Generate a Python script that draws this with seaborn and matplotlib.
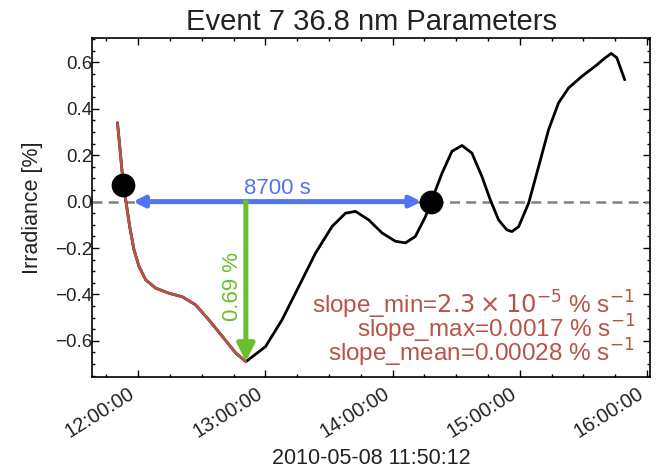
import matplotlib
matplotlib.use("Agg")
import matplotlib.pyplot as plt
import matplotlib.dates as mdates
from matplotlib.ticker import MultipleLocator
import numpy as np
import pandas as pd
import seaborn as sns

DAY = "2010-05-08 "
times = ["11:50:12", "11:51:42", "11:52:56", "11:54:04", "11:55:57", "11:57:58",
         "12:00:20", "12:03:29", "12:08:12", "12:14:28", "12:20:44", "12:27:03",
         "12:33:19", "12:39:35", "12:45:55", "12:50:46",
         "13:00:03", "13:07:52", "13:15:44", "13:23:37", "13:31:26", "13:37:45",
         "13:42:28", "13:48:44", "13:55:00", "14:01:19", "14:06:02", "14:10:44",
         "14:15:28", "14:18:11", "14:23:17", "14:28:00", "14:32:43", "14:37:25",
         "14:42:08", "14:46:06", "14:50:00", "14:53:55", "14:56:17", "14:59:26",
         "15:04:09", "15:08:52", "15:13:34", "15:18:17", "15:23:00", "15:29:16",
         "15:35:35", "15:40:18", "15:43:08", "15:45:46", "15:49:30"]
irradiance = [0.34, 0.196, 0.073, 0.008, -0.107, -0.207,
              -0.279, -0.337, -0.373, -0.395, -0.41, -0.445,
              -0.51, -0.58, -0.652, -0.69,
              -0.625, -0.509, -0.366, -0.222, -0.107, -0.05,
              -0.042, -0.079, -0.135, -0.171, -0.178, -0.150,
              -0.065, 0.0, 0.122, 0.217, 0.242, 0.209,
              0.108, 0.007, -0.079, -0.122, -0.129, -0.108,
              -0.007, 0.151, 0.31, 0.426, 0.49, 0.54,
              0.584, 0.62, 0.639, 0.62, 0.525]
n_dimming = 16  # points from start to the minimum (red segment)

dot_times = ["11:52:56", "14:18:11"]
dot_values = [0.073, 0.0]
min_time = "12:50:46"
min_value = -0.69
duration_label = "8700 s"
depth_label = "0.69 %"
slope_lines = [r"slope_min=$2.3 \times 10^{-5}$ % s$^{-1}$",
               r"slope_max=0.0017 % s$^{-1}$",
               r"slope_mean=0.00028 % s$^{-1}$"]
title = "Event 7 36.8 nm Parameters"
xlabel = "2010-05-08 11:50:12"
ylabel = "Irradiance [%]"

RED = "#b85447"
BLUE = "#5274ee"
GREEN = "#6cbf2c"

sns.set_style("ticks")
plt.rcParams["font.family"] = ["Liberation Sans", "DejaVu Sans"]
plt.rcParams["mathtext.fontset"] = "dejavusans"
plt.rcParams["axes.unicode_minus"] = True

df = pd.DataFrame({"time": pd.to_datetime([DAY + t for t in times]),
                   "irr": irradiance})
dots = pd.DataFrame({"time": pd.to_datetime([DAY + t for t in dot_times]),
                     "irr": dot_values})

fig, ax = plt.subplots(figsize=(6.58, 4.69), dpi=100)
fig.subplots_adjust(left=0.14, right=0.988, top=0.919, bottom=0.196)

ax.axhline(0, color="gray", ls=(0, (4, 2.5)), lw=1.8, zorder=1)
sns.lineplot(data=df, x="time", y="irr", color="black", lw=2, ax=ax, zorder=2)
sns.lineplot(data=df.iloc[:n_dimming], x="time", y="irr", color=RED, lw=2,
             ax=ax, zorder=3)

t0 = mdates.date2num(dots["time"].iloc[0])
t1 = mdates.date2num(dots["time"].iloc[1])
tm = mdates.date2num(pd.Timestamp(DAY + min_time))

ax.annotate("", xy=(t0, 0), xytext=(t1, 0),
            arrowprops=dict(arrowstyle="<|-|>", color=BLUE, lw=3.6,
                            mutation_scale=16, shrinkA=7, shrinkB=7),
            zorder=4)
ax.text((t0 + t1) / 2, 0.012, duration_label, color=BLUE, fontsize=16,
        ha="center", va="bottom", zorder=5)

ax.annotate("", xy=(tm, min_value), xytext=(tm, 0),
            arrowprops=dict(arrowstyle="-|>", color=GREEN, lw=3.6,
                            mutation_scale=26, shrinkA=0, shrinkB=0),
            zorder=4)
ax.text(tm - 0.001, min_value / 2 - 0.02, depth_label, color=GREEN,
        fontsize=16, rotation=90, ha="right", va="center", zorder=5)

sns.scatterplot(data=dots, x="time", y="irr", color="black", s=250,
                edgecolor="black", ax=ax, zorder=6)

for txt, yy in zip(slope_lines, [0.186, 0.116, 0.046]):
    ax.text(0.973, yy, txt, transform=ax.transAxes, color=RED, fontsize=17.5,
            ha="right", va="baseline", zorder=5)

ax.xaxis.set_major_locator(mdates.HourLocator())
ax.xaxis.set_minor_locator(mdates.MinuteLocator(byminute=[0, 15, 30, 45]))
ax.xaxis.set_major_formatter(mdates.DateFormatter("%H:%M:%S"))
ax.yaxis.set_major_locator(MultipleLocator(0.2))
ax.yaxis.set_minor_locator(MultipleLocator(0.05))
ax.tick_params(which="both", direction="in", top=True, right=True,
               color="black", width=1)
ax.tick_params(which="major", length=5, labelcolor="#222222")
ax.tick_params(which="minor", length=2.5)
ax.tick_params(axis="x", which="major", pad=5, labelsize=14.5)
ax.tick_params(axis="y", which="major", pad=0, labelsize=13.5)
for lab in ax.get_xticklabels():
    lab.set_rotation(32)
    lab.set_ha("right")
for sp in ax.spines.values():
    sp.set_color("black")
    sp.set_linewidth(1.2)

ax.set_title(title, fontsize=21, color="#222222", pad=6)
ax.set_xlabel(xlabel, fontsize=15.5, color="#222222", labelpad=5)
ax.set_ylabel(ylabel, fontsize=15.5, color="#222222", labelpad=8.5)

fig.savefig("out.png", dpi=100)
